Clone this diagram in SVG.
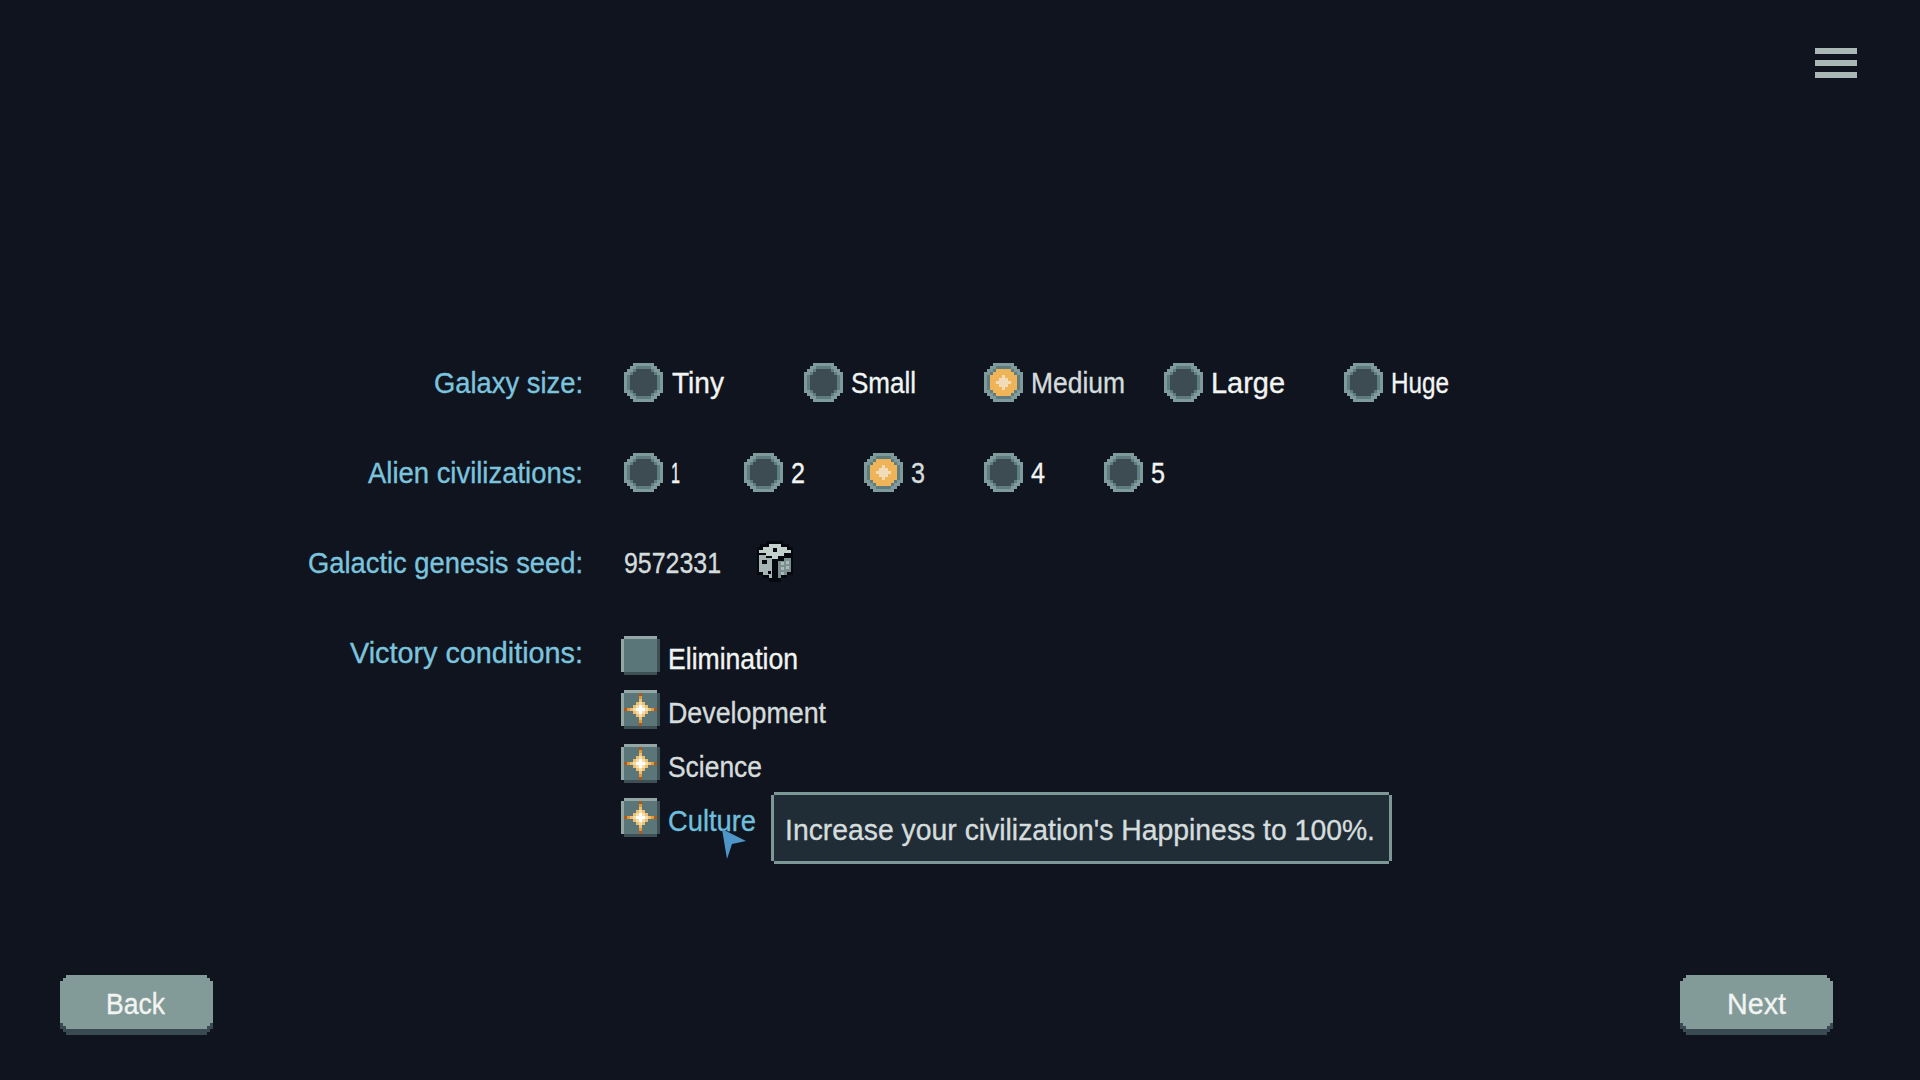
<svg xmlns="http://www.w3.org/2000/svg" width="1920" height="1080" viewBox="0 0 1920 1080">
<style>
text{font-family:"Liberation Sans",Arial,sans-serif;font-size:29px;stroke-width:.35px;paint-order:stroke}
.lb{fill:#7cc4de;stroke:#7cc4de}.on{fill:#f2f4f2;stroke:#f2f4f2}.of{fill:#d5dcdc;stroke:#d5dcdc}.cu{fill:#6fbfdc;stroke:#6fbfdc}
.px{shape-rendering:crispEdges}
</style>
<defs>
<g id="radio" class="px" transform="scale(3)">
<path fill="#7e9a9a" d="M3 0H10V1H11V2H12V3H13V10H12V11H11V12H10V13H3V12H2V11H1V10H0V3H1V2H2V1H3Z"/>
<path fill="#5f7d80" d="M4 1H9V2H10V3H11V4H12V9H11V10H10V11H9V12H4V11H3V10H2V9H1V4H2V3H3V2H4Z"/>
<path fill="#3c4c52" d="M4 2H9V3H10V4H11V9H10V10H9V11H4V10H3V9H2V4H3V3H4Z"/>
</g>
<g id="radioOn" class="px" transform="scale(3)">
<path fill="#7e9a9a" d="M3 0H10V1H11V2H12V3H13V10H12V11H11V12H10V13H3V12H2V11H1V10H0V3H1V2H2V1H3Z"/>
<path fill="#5f7d80" d="M4 1H9V2H10V3H11V4H12V9H11V10H10V11H9V12H4V11H3V10H2V9H1V4H2V3H3V2H4Z"/>
<path fill="#efb458" d="M4 2H9V3H10V4H11V9H10V10H9V11H4V10H3V9H2V4H3V3H4Z"/>
<path fill="#f0dcb8" d="M6 4H7V5H8V6H9V7H8V8H7V9H6V8H5V7H4V6H5V5H6Z"/>
</g>
<g id="box" class="px" transform="scale(3)">
<rect x="1" y="1" width="11" height="11" fill="#5a7679"/>
<rect x="1" y="0" width="11" height="1" fill="#93a8a6"/>
<rect x="0" y="1" width="1" height="11" fill="#93a8a6"/>
<rect x="12" y="1" width="1" height="11" fill="#3f5055"/>
<rect x="1" y="12" width="11" height="1" fill="#3f5055"/>
</g>
<g id="star" class="px" transform="scale(3)">
<rect x="6" y="1" width="1" height="11" fill="#a85a20"/>
<rect x="1" y="6" width="11" height="1" fill="#a85a20"/>
<rect x="6" y="2" width="1" height="9" fill="#e09a38"/>
<rect x="2" y="6" width="9" height="1" fill="#e09a38"/>
<path fill="#efbf70" d="M6 3H7V4H8V5H9V6H10V7H9V8H8V9H7V10H6V9H5V8H4V7H3V6H4V5H5V4H6Z"/>
<path fill="#f5dca8" d="M6 4H7V5H8V6H9V7H8V8H7V9H6V8H5V7H4V6H5V5H6Z"/>
<path fill="#ffffff" d="M6 5H7V6H8V7H7V8H6V7H5V6H6Z"/>
</g>
<g id="btn" class="px">
<path fill="#3a4a52" d="M60 1020H213V1029H210V1032H207V1035H66V1032H63V1029H60Z"/>
<path fill="#829a98" d="M66 975H207V978H210V981H213V1023H210V1026H207V1029H66V1026H63V1023H60V981H63V978H66Z"/>
</g>
</defs>
<rect width="1920" height="1080" fill="#0f141f"/>

<g id="menu" class="px" fill="#a9b8b4">
<rect x="1815" y="48" width="42" height="6"/><rect x="1815" y="60" width="42" height="6"/><rect x="1815" y="72" width="42" height="6"/>
</g>

<g id="labels">
<text class="lb" x="434" y="393" textLength="149" lengthAdjust="spacingAndGlyphs">Galaxy size:</text>
<text class="lb" x="368" y="483" textLength="215" lengthAdjust="spacingAndGlyphs">Alien civilizations:</text>
<text class="lb" x="308" y="573" textLength="275" lengthAdjust="spacingAndGlyphs">Galactic genesis seed:</text>
<text class="lb" x="350" y="663" textLength="233" lengthAdjust="spacingAndGlyphs">Victory conditions:</text>
</g>

<g id="galaxy-size">
<g id="size-tiny"><use href="#radio" transform="translate(624 363)"/><text class="on" x="672" y="393" textLength="52" lengthAdjust="spacingAndGlyphs">Tiny</text></g>
<g id="size-small"><use href="#radio" transform="translate(804 363)"/><text class="on" x="851" y="393" textLength="65" lengthAdjust="spacingAndGlyphs">Small</text></g>
<g id="size-medium"><use href="#radioOn" transform="translate(984 363)"/><text class="of" x="1031" y="393" textLength="94" lengthAdjust="spacingAndGlyphs">Medium</text></g>
<g id="size-large"><use href="#radio" transform="translate(1164 363)"/><text class="on" x="1211" y="393" textLength="74" lengthAdjust="spacingAndGlyphs">Large</text></g>
<g id="size-huge"><use href="#radio" transform="translate(1344 363)"/><text class="on" x="1391" y="393" textLength="58" lengthAdjust="spacingAndGlyphs">Huge</text></g>
</g>

<g id="alien-civs">
<g id="civ-1"><use href="#radio" transform="translate(624 453)"/><text class="on" x="671" y="483" textLength="9" lengthAdjust="spacingAndGlyphs">1</text></g>
<g id="civ-2"><use href="#radio" transform="translate(744 453)"/><text class="on" x="791" y="483" textLength="14" lengthAdjust="spacingAndGlyphs">2</text></g>
<g id="civ-3"><use href="#radioOn" transform="translate(864 453)"/><text class="of" x="911" y="483" textLength="14" lengthAdjust="spacingAndGlyphs">3</text></g>
<g id="civ-4"><use href="#radio" transform="translate(984 453)"/><text class="on" x="1031" y="483" textLength="14" lengthAdjust="spacingAndGlyphs">4</text></g>
<g id="civ-5"><use href="#radio" transform="translate(1104 453)"/><text class="on" x="1151" y="483" textLength="14" lengthAdjust="spacingAndGlyphs">5</text></g>
</g>

<g id="seed">
<text class="of" x="624" y="573" textLength="97" lengthAdjust="spacingAndGlyphs">9572331</text>
<g id="dice" class="px">
<path fill="#05080f" d="M766 541H783V544H789V547H793V575H787V578H781V582H769V578H763V575H757V547H760V544H766Z"/>
<path fill="#c3d0cc" d="M769 544H781V547H787V550H791V553H784V556H778V559H772V556H766V553H759V550H763V547H769Z"/>
<rect x="773" y="548" width="4" height="4" fill="#05080f"/>
<path fill="#a5b6b4" d="M759 555H766V558H772V578H769V575H763V572H759Z"/>
<rect x="762" y="560" width="5" height="4" fill="#05080f"/>
<rect x="768" y="571" width="3" height="3" fill="#05080f"/>
<path fill="#7b8f8f" d="M778 561H784V558H791V572H787V575H781V578H778Z"/>
<path fill="#a9bab8" d="M781 562H784V565H781ZM786 561H789V564H786ZM781 567H784V570H781ZM786 566H789V569H786ZM781 572H784V575H781Z"/>
</g>
</g>

<g id="victory">
<g id="vc-elimination"><use href="#box" transform="translate(621 636)"/><text class="on" x="668" y="669" textLength="130" lengthAdjust="spacingAndGlyphs">Elimination</text></g>
<g id="vc-development"><use href="#box" transform="translate(621 690)"/><use href="#star" transform="translate(621 690)"/><text class="of" x="668" y="723" textLength="158" lengthAdjust="spacingAndGlyphs">Development</text></g>
<g id="vc-science"><use href="#box" transform="translate(621 744)"/><use href="#star" transform="translate(621 744)"/><text class="of" x="668" y="777" textLength="94" lengthAdjust="spacingAndGlyphs">Science</text></g>
<g id="vc-culture"><use href="#box" transform="translate(621 798)"/><use href="#star" transform="translate(621 798)"/><text class="cu" x="668" y="831" textLength="88" lengthAdjust="spacingAndGlyphs">Culture</text></g>
</g>

<g id="tooltip">
<path class="px" fill="#7d9696" d="M774 792H1389V795H1392V861H1389V864H774V861H771V795H774Z"/>
<rect class="px" x="774" y="795" width="615" height="66" fill="#202d37"/>
<text class="of" x="785" y="840" textLength="590" lengthAdjust="spacingAndGlyphs">Increase your civilization's Happiness to 100%.</text>
</g>

<g id="cursor"><polygon points="722,829 746,841 732,844 727,859" fill="#4f96c8"/></g>

<g id="back-button"><use href="#btn"/><text class="on" x="106" y="1014" textLength="59" lengthAdjust="spacingAndGlyphs">Back</text></g>
<g id="next-button"><use href="#btn" transform="translate(1620 0)"/><text class="on" x="1727" y="1014" textLength="59" lengthAdjust="spacingAndGlyphs">Next</text></g>
</svg>
